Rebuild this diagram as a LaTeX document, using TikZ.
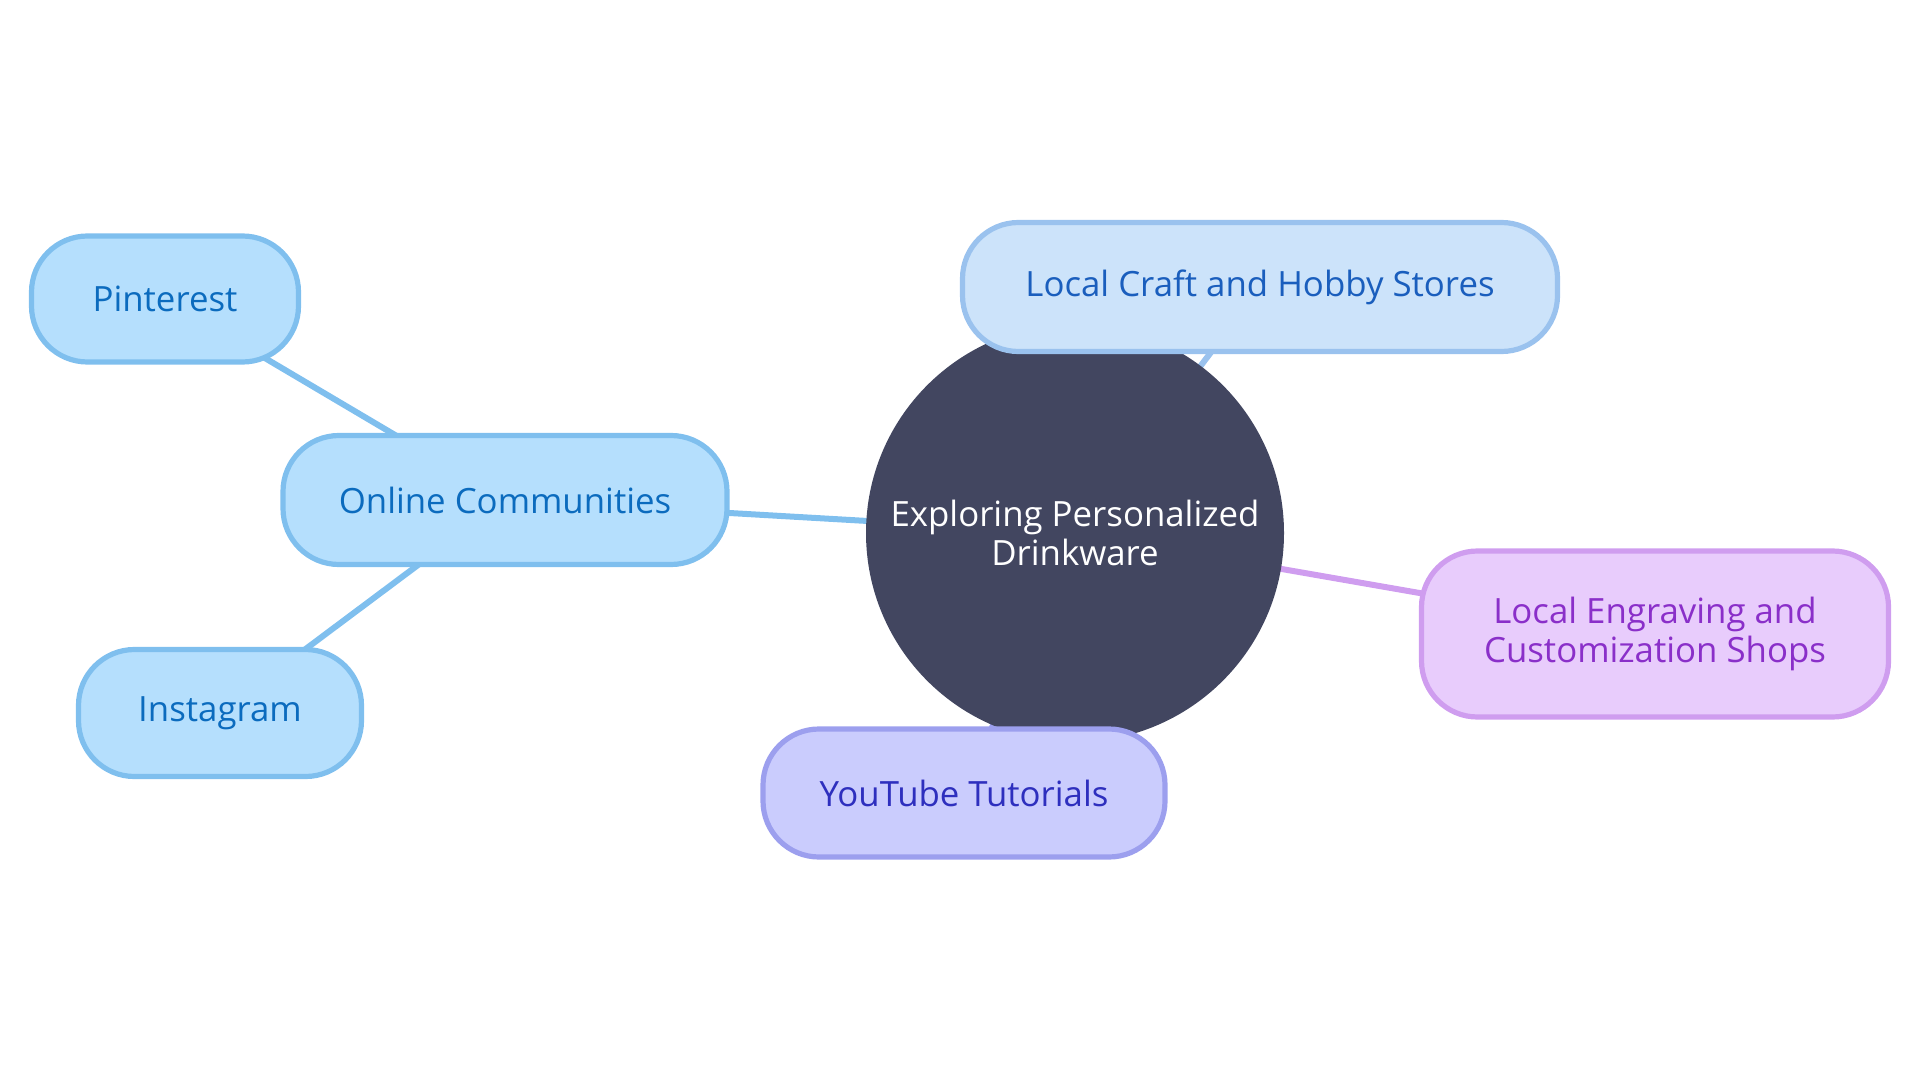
\documentclass[tikz,border=0pt]{standalone}
\usepackage{fontspec}
\setmainfont{Open Sans}
\usetikzlibrary{backgrounds}
\definecolor{hubfill}{HTML}{424660}
\definecolor{bluefill}{HTML}{B5DFFD}
\definecolor{bluedraw}{HTML}{7FBFEE}
\definecolor{bluetext}{HTML}{0B6BBE}
\definecolor{craftfill}{HTML}{CCE3FA}
\definecolor{craftdraw}{HTML}{9AC2EE}
\definecolor{crafttext}{HTML}{1A5EBD}
\definecolor{engfill}{HTML}{E8CCFC}
\definecolor{engdraw}{HTML}{CF9DEF}
\definecolor{engtext}{HTML}{8A2FC9}
\definecolor{ytfill}{HTML}{CACCFD}
\definecolor{ytdraw}{HTML}{9C9FEE}
\definecolor{yttext}{HTML}{2E2FBE}
\tikzset{
  lbl/.style={font=\fontsize{17.4}{19.5}\selectfont, align=center},
  hub/.style={lbl, circle, fill=hubfill, text=white, minimum size=209pt, inner sep=0pt},
  box/.style={lbl, rectangle, rounded corners=28pt, line width=2.6pt, inner sep=0pt},
  bluebox/.style={box, fill=bluefill, draw=bluedraw, text=bluetext},
  craftbox/.style={box, fill=craftfill, draw=craftdraw, text=crafttext},
  engbox/.style={box, fill=engfill, draw=engdraw, text=engtext},
  ytbox/.style={box, fill=ytfill, draw=ytdraw, text=yttext},
  link/.style={line width=3pt}
}
\begin{document}
\begin{tikzpicture}[x=0.5pt,y=-0.5pt]
\useasboundingbox (0,0) rectangle (1920,1080);
\node[hub] (c) at (1075,533) {Exploring Personalized\\Drinkware};
\node[bluebox, minimum width=133.5pt, minimum height=63pt] (pin) at (165,299) {Pinterest};
\node[bluebox, minimum width=222pt, minimum height=64.5pt] (onl) at (505,500) {Online Communities};
\node[bluebox, minimum width=141.5pt, minimum height=63.5pt] (ins) at (220,713) {Instagram};
\node[craftbox, minimum width=297.5pt, minimum height=64.5pt] (craft) at (1260,287) {Local Craft and Hobby Stores};
\node[engbox, minimum width=233.5pt, minimum height=83pt] (eng) at (1655,634) {Local Engraving and\\Customization Shops};
\node[ytbox, minimum width=201pt, minimum height=64pt] (yt) at (964,793) {YouTube Tutorials};
\begin{scope}[on background layer]
\draw[link, draw=bluedraw] (c.center) -- (onl.center);
\draw[link, draw=bluedraw] (onl.center) -- (pin.center);
\draw[link, draw=bluedraw] (onl.center) -- (ins.center);
\draw[link, draw=craftdraw] (c.center) -- (craft.center);
\draw[link, draw=engdraw] (c.center) -- (eng.center);
\draw[link, draw=ytdraw] (c.center) -- (yt.center);
\end{scope}
\end{tikzpicture}
\end{document}
